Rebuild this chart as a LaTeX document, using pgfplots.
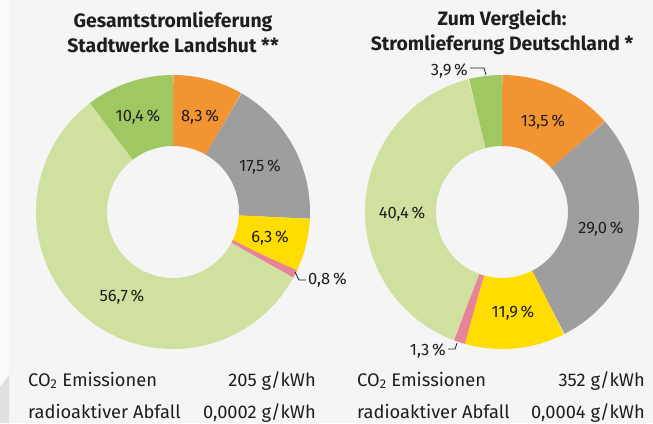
\documentclass[border=0pt]{standalone}
\usepackage{fontspec}
\setmainfont{Fira Sans}
\usepackage{pgfplots}
\usepackage{pgfplotstable}
\pgfplotsset{compat=1.18}
\definecolor{bg}{HTML}{F5F5F5}
\definecolor{cOrange}{HTML}{F39433}
\definecolor{cGray}{HTML}{9E9E9E}
\definecolor{cYellow}{HTML}{FFDD00}
\definecolor{cPink}{HTML}{E8849A}
\definecolor{cLight}{HTML}{D0E09E}
\definecolor{cGreen}{HTML}{A0C862}
\definecolor{txt}{HTML}{1E1E1E}

\pgfplotstableread{
source value col
Kernenergie 8.3 cOrange
Kohle 17.5 cGray
Erdgas 6.3 cYellow
Sonstige 0.8 cPink
Erneuerbare 56.7 cLight
EEG 10.4 cGreen
}\leftdata
\pgfplotstableread{
source value col
Kernenergie 13.5 cOrange
Kohle 29.0 cGray
Erdgas 11.9 cYellow
Sonstige 1.3 cPink
Erneuerbare 40.4 cLight
EEG 3.9 cGreen
}\rightdata

\newcommand{\donut}[3]{%
  \def\acc{0}%
  \pgfplotstablegetrowsof{#1}%
  \pgfmathtruncatemacro\nrows{\pgfplotsretval-1}%
  \pgfplotsforeachungrouped \i in {0,...,\nrows}{%
    \pgfplotstablegetelem{\i}{value}\of{#1}\let\val\pgfplotsretval
    \pgfplotstablegetelem{\i}{col}\of{#1}\let\col\pgfplotsretval
    \pgfmathsetmacro\nxt{\acc+\val}%
    \edef\cmd{\noexpand\addplot[draw=\col, line width=71pt, no markers, samples=80, domain=\acc:\nxt, variable=\noexpand\t] ({#2+101.5*sin(3.6*\noexpand\t)},{#3+101.5*cos(3.6*\noexpand\t)});}%
    \cmd
    \let\acc\nxt
  }%
}

\begin{document}
\begin{tikzpicture}
\fill[bg] (0,0) rectangle (653pt,423pt);
\fill[white!60!bg] (0,0) rectangle (9pt,423pt);
\fill[black!12] (0,0) -- (0,36pt) -- (9pt,48pt) -- (9pt,0) -- cycle;
\begin{axis}[at={(0,0)}, anchor=south west, scale only axis,
  x=1pt, y=1pt, xmin=0, xmax=653, ymin=0, ymax=423,
  hide axis, clip=false]
\donut{\leftdata}{173}{211}
\donut{\rightdata}{502}{211}

% titles
\node[txt, align=center, font=\bfseries\fontsize{19.4}{25}\selectfont] at (axis cs:173,391) {Gesamtstromlieferung\\Stadtwerke Landshut **};
\node[txt, align=center, font=\bfseries\fontsize{19.4}{25}\selectfont] at (axis cs:502,391) {Zum Vergleich:\\Stromlieferung Deutschland *};

% left labels
\begin{scope}[every node/.style={txt, font=\fontsize{16.5}{19}\selectfont}]
\node at (axis cs:138,306) {10,4\,\%};
\node at (axis cs:200,306) {8,3\,\%};
\node at (axis cs:260,256) {17,5\,\%};
\node at (axis cs:270,185) {6,3\,\%};
\node at (axis cs:122,126) {56,7\,\%};
\node[anchor=west, inner sep=1pt] at (axis cs:307,143) {0,8\,\%};
\draw[txt, line width=0.8pt] (axis cs:295,151) -- (axis cs:299,143) -- (axis cs:306,143);
% right labels
\node at (axis cs:543,301) {13,5\,\%};
\node at (axis cs:601,194) {29,0\,\%};
\node at (axis cs:513,110) {11,9\,\%};
\node at (axis cs:402,209) {40,4\,\%};
\node[anchor=east, inner sep=1pt] at (axis cs:469,352) {3,9\,\%};
\draw[txt, line width=0.8pt] (axis cs:470,355) -- (axis cs:484,355) -- (axis cs:486,348);
\node[anchor=east, inner sep=1pt] at (axis cs:447,72) {1,3\,\%};
\draw[txt, line width=0.8pt] (axis cs:448,74) -- (axis cs:455,74) -- (axis cs:457,80);
\end{scope}

% bottom text
\begin{scope}[every node/.style={txt, font=\fontsize{18.3}{21}\selectfont, inner sep=0pt}]
\node[anchor=base west] at (axis cs:28,37) {CO\textsubscript{2} Emissionen};
\node[anchor=base east] at (axis cs:316,37) {205 g/kWh};
\node[anchor=base west] at (axis cs:28,5) {radioaktiver Abfall};
\node[anchor=base east] at (axis cs:316,5) {0,0002 g/kWh};
\node[anchor=base west] at (axis cs:357,37) {CO\textsubscript{2} Emissionen};
\node[anchor=base east] at (axis cs:645,37) {352 g/kWh};
\node[anchor=base west] at (axis cs:357,5) {radioaktiver Abfall};
\node[anchor=base east] at (axis cs:645,5) {0,0004 g/kWh};
\end{scope}
\end{axis}
\pgfresetboundingbox
\path[use as bounding box] (0,0) rectangle (653pt,423pt);
\end{tikzpicture}
\end{document}
